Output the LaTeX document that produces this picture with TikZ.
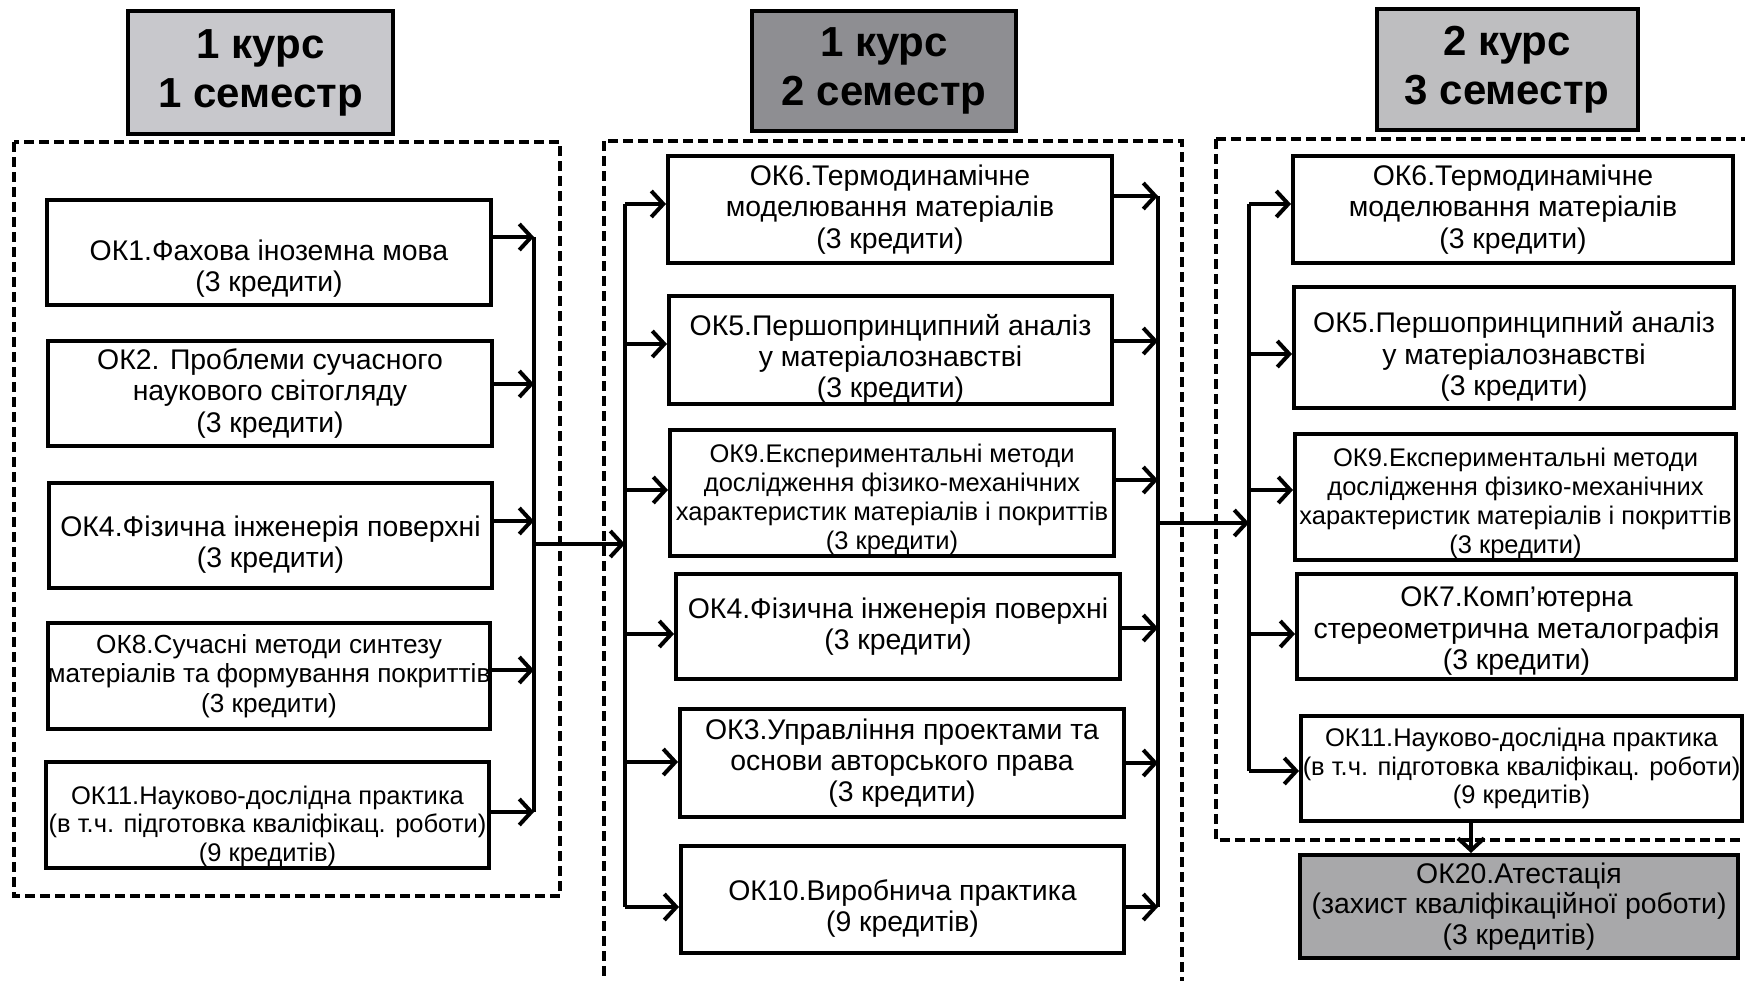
\documentclass[tikz,border=0pt]{standalone}
\usepackage{fontspec}
\setmainfont{Liberation Sans}
\usetikzlibrary{arrows.meta}
\tikzset{
 cbox/.style={draw, line width=4pt, fill=white, align=center, inner sep=0pt, font=\fontsize{28.4}{31.2}\selectfont},
 sbox/.style={cbox, font=\fontsize{25.5}{28.8}\selectfont},
 mbox/.style={cbox, font=\fontsize{26.2}{29.5}\selectfont},
 hbox/.style={draw, line width=4pt, align=center, inner sep=0pt, font=\fontsize{42}{49}\selectfont\bfseries},
 grp/.style={draw, line width=3.5pt, dash pattern=on 10pt off 5pt},
 bus/.style={line width=4pt},
 arr/.style={line width=4pt, -{Straight Barb[length=12pt,width=26pt]}},
}
\newcommand{\lift}[1]{\rule{0pt}{#1pt}}
\definecolor{hlight}{RGB}{200,200,204}
\definecolor{hdark}{RGB}{142,142,146}
\definecolor{hmid}{RGB}{190,190,192}
\definecolor{attest}{RGB}{168,168,170}
\begin{document}
\begin{tikzpicture}[x=1pt,y=-1pt]
\useasboundingbox (0,0) rectangle (1745,980);
% groups
\draw[grp] (14,142) rectangle (560,896);
\draw[grp] (604,141) rectangle (1182,995);
\draw[grp] (1216,139) rectangle (1765,840);
% headers
\node[hbox, fill=hlight, minimum width=265pt, minimum height=123pt] (h1) at (260.5,72.5) {1 курс\\1 семестр};
\node[hbox, fill=hdark, minimum width=264pt, minimum height=120pt] (h2) at (884,71) {1 курс\\2 семестр};
\node[hbox, fill=hmid, minimum width=261pt, minimum height=121pt] (h3) at (1507,69.5) {2 курс\\3 семестр};
% column 1
\node[cbox, minimum width=444pt, minimum height=105pt] (a1) at (269,252.5) {\lift{53}ОК1.Фахова іноземна мова\\(3 кредити)};
\node[cbox, minimum width=444pt, minimum height=105pt] (a2) at (270,393.5) {ОК2. Проблеми сучасного\\наукового світогляду\\(3 кредити)};
\node[cbox, minimum width=443pt, minimum height=105pt] (a3) at (270.5,535.5) {\lift{39}ОК4.Фізична інженерія поверхні\\(3 кредити)};
\node[mbox, minimum width=442pt, minimum height=106pt] (a4) at (269,676) {ОК8.Сучасні методи синтезу\\матеріалів та формування покриттів\\(3 кредити)};
\node[sbox, minimum width=443pt, minimum height=106pt] (a5) at (267.5,815) {\lift{41}ОК11.Науково-дослідна практика\\(в т.ч. підготовка кваліфікац. роботи)\\(9 кредитів)};
% column 2
\node[cbox, minimum width=444pt, minimum height=107pt] (b1) at (890,209.5) {ОК6.Термодинамічне\\моделювання матеріалів\\(3 кредити)};
\node[cbox, minimum width=443pt, minimum height=106pt] (b2) at (890.5,350) {\lift{39}ОК5.Першопринципний аналіз\\у матеріалознавстві\\(3 кредити)};
\node[sbox, minimum width=444pt, minimum height=126pt] (b3) at (892,493) {\lift{31}ОК9.Експериментальні методи\\дослідження фізико-механічних\\характеристик матеріалів і покриттів\\(3 кредити)};
\node[cbox, minimum width=444pt, minimum height=105pt] (b4) at (898,626.5) {ОК4.Фізична інженерія поверхні\\(3 кредити)};
\node[cbox, minimum width=444pt, minimum height=108pt] (b5) at (902,763) {ОК3.Управління проектами та\\основи авторського права\\(3 кредити)};
\node[cbox, minimum width=443pt, minimum height=107pt] (b6) at (902.5,899.5) {\lift{39}ОК10.Виробнича практика\\(9 кредитів)};
% column 3
\node[cbox, minimum width=440pt, minimum height=107pt] (c1) at (1513,209.5) {ОК6.Термодинамічне\\моделювання матеріалів\\(3 кредити)};
\node[cbox, minimum width=440pt, minimum height=121pt] (c2) at (1514,347.5) {\lift{39}ОК5.Першопринципний аналіз\\у матеріалознавстві\\(3 кредити)};
\node[sbox, minimum width=441pt, minimum height=126pt] (c3) at (1515.5,497) {\lift{31}ОК9.Експериментальні методи\\дослідження фізико-механічних\\характеристик матеріалів і покриттів\\(3 кредити)};
\node[cbox, minimum width=439pt, minimum height=105pt] (c4) at (1516.5,626.5) {\lift{29}ОК7.Комп'ютерна\\стереометрична металографія\\(3 кредити)};
\node[sbox, minimum width=441pt, minimum height=105pt] (c5) at (1521.5,768.5) {ОК11.Науково-дослідна практика\\(в т.ч. підготовка кваліфікац. роботи)\\(9 кредитів)};
\node[cbox, fill=attest, minimum width=438pt, minimum height=103pt, font=\fontsize{28.4}{30.6}\selectfont] (c6) at (1519,906.5) {ОК20.Атестація\\(захист кваліфікаційної роботи)\\(3 кредитів)};
% bus coordinates column 1
\coordinate (p1) at (534,237);
\coordinate (p2) at (534,384);
\coordinate (p3) at (534,521);
\coordinate (p4) at (534,670);
\coordinate (p5) at (534,812);
\coordinate (o1) at (534,544);
\draw[bus] (p1) -- (p5);
\draw[arr] (a1.east |- p1) -- (p1);
\draw[arr] (a2.east |- p2) -- (p2);
\draw[arr] (a3.east |- p3) -- (p3);
\draw[arr] (a4.east |- p4) -- (p4);
\draw[arr] (a5.east |- p5) -- (p5);
% column 2 buses
\coordinate (l1) at (625,204);
\coordinate (l2) at (625,344);
\coordinate (l3) at (625,490);
\coordinate (l4) at (625,634);
\coordinate (l5) at (625,762);
\coordinate (l6) at (625,907);
\coordinate (i2) at (625,544);
\draw[arr] (o1) -- (i2);
\draw[bus] (l1) -- (l6);
\draw[arr] (l1) -- (b1.west |- l1);
\draw[arr] (l2) -- (b2.west |- l2);
\draw[arr] (l3) -- (b3.west |- l3);
\draw[arr] (l4) -- (b4.west |- l4);
\draw[arr] (l5) -- (b5.west |- l5);
\draw[arr] (l6) -- (b6.west |- l6);
\coordinate (r1) at (1158,196);
\coordinate (r2) at (1158,341);
\coordinate (r3) at (1158,480);
\coordinate (r4) at (1158,628);
\coordinate (r5) at (1158,763);
\coordinate (r6) at (1158,907);
\coordinate (o2) at (1158,523);
\draw[bus] (r1) -- (r6);
\draw[arr] (b1.east |- r1) -- (r1);
\draw[arr] (b2.east |- r2) -- (r2);
\draw[arr] (b3.east |- r3) -- (r3);
\draw[arr] (b4.east |- r4) -- (r4);
\draw[arr] (b5.east |- r5) -- (r5);
\draw[arr] (b6.east |- r6) -- (r6);
% column 3 bus
\coordinate (m1) at (1249,204);
\coordinate (m2) at (1249,354);
\coordinate (m3) at (1249,490);
\coordinate (m4) at (1249,634);
\coordinate (m5) at (1249,771);
\coordinate (i3) at (1249,523);
\draw[arr] (o2) -- (i3);
\draw[bus] (m1) -- (m5);
\draw[arr] (m1) -- (c1.west |- m1);
\draw[arr] (m2) -- (c2.west |- m2);
\draw[arr] (m3) -- (c3.west |- m3);
\draw[arr] (m4) -- (c4.west |- m4);
\draw[arr] (m5) -- (c5.west |- m5);
\coordinate (vx) at (1471,840);
\draw[arr] (c5.south -| vx) -- (c6.north -| vx);
\end{tikzpicture}
\end{document}
